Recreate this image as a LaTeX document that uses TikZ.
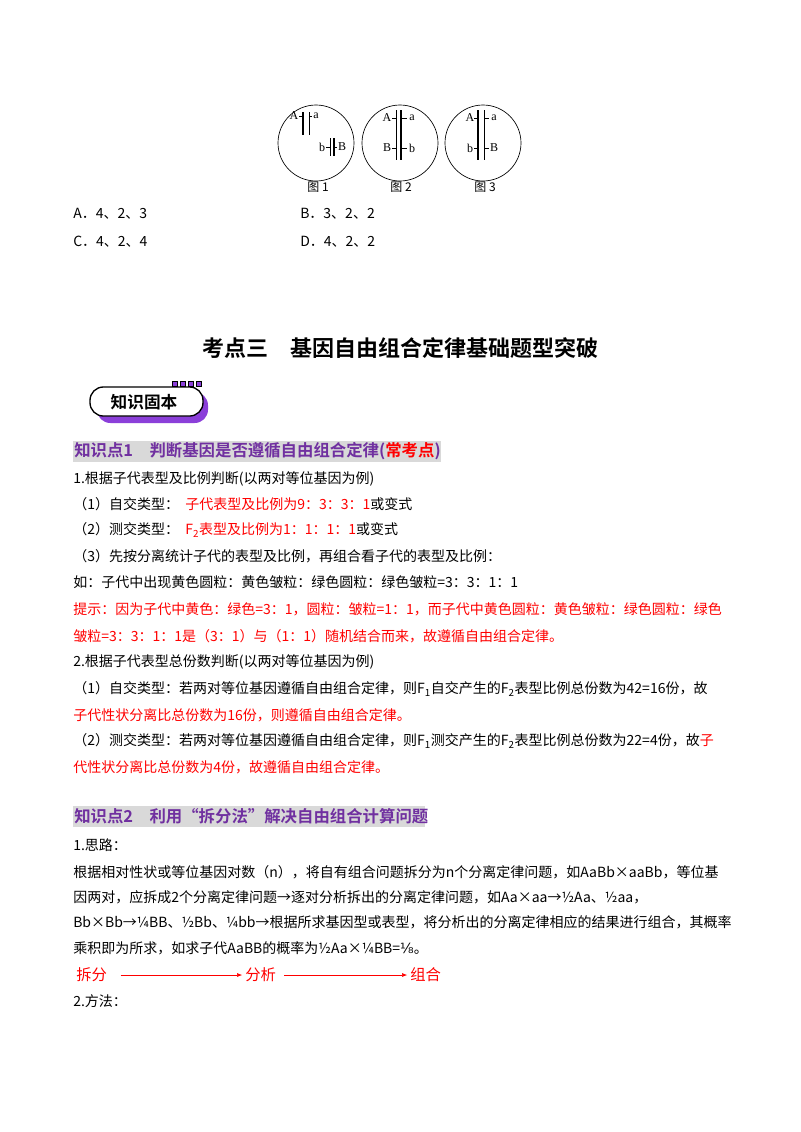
\documentclass[tikz,border=0pt]{standalone}
\usepackage{fontspec}
\setmainfont{Liberation Serif}
\newfontfamily\cjk{Noto Sans CJK SC}
\newfontfamily\cjkb{Noto Sans CJK SC Bold}
\newfontfamily\dv{DejaVu Sans}
\usetikzlibrary{arrows.meta}
\definecolor{myred}{HTML}{FF0000}
\definecolor{mypurple}{HTML}{7030A0}
\definecolor{hgray}{HTML}{D9D9D9}
\definecolor{bpurple}{HTML}{8B3FD9}
\newcommand{\R}[1]{\textcolor{myred}{#1}}
\tikzset{ln/.style={anchor=west,inner sep=0pt,font=\cjk\fontsize{10.5pt}{12pt}\selectfont},
 lab/.style={inner sep=0pt,font=\fontsize{9pt}{10pt}\selectfont},
 thin/.style={line width=0.5pt}}
\begin{document}
\begin{tikzpicture}[x=0.75pt,y=-0.75pt]
\useasboundingbox (0,0) rectangle (800,1132);
% circles
\draw[thin] (316,143) circle (38) (400,143) circle (38) (483,143) circle (38);
\node[lab] (A1) at (294,116) {A}; \node[lab] (a1) at (316,116) {a};
\draw[line width=1.2pt] (303,112) -- (303,135); \draw[thin] (309,112) -- (309,135);
\draw[thin] (299,116)--(303,116) (309,116)--(312,116);
\node[lab] (b1) at (322,147) {b}; \node[lab] (B1) at (342,147) {B};
\draw[thin] (330,138) -- (330,156); \draw[line width=1.2pt] (334,138) -- (334,156);
\draw[thin] (326,147)--(330,147) (334,147)--(337,147);
\node[lab] (A2) at (387,118) {A}; \node[lab] (a2) at (412,118) {a};
\node[lab] (B2) at (387,148) {B}; \node[lab] (b2) at (412,148) {b};
\draw[thin] (396,110) -- (396,160); \draw[line width=1.2pt] (401,110) -- (401,160);
\draw[thin] (392,118)--(396,118) (401,118)--(407,118) (392,148)--(396,148) (401,148)--(407,148);
\node[lab] (A3) at (470,118) {A}; \node[lab] (a3) at (494,118) {a};
\node[lab] (b3) at (470,148) {b}; \node[lab] (B3) at (494,148) {B};
\draw[line width=1.2pt] (478,110) -- (478,160); \draw[thin] (484,110) -- (484,160);
\draw[thin] (474,118)--(478,118) (484,118)--(489,118) (474,148)--(478,148) (484,148)--(489,148);
\node[lab,font=\cjk\fontsize{9pt}{10pt}\selectfont] (c1) at (318,187) {图 1};
\node[lab,font=\cjk\fontsize{9pt}{10pt}\selectfont] (c2) at (401,187) {图 2};
\node[lab,font=\cjk\fontsize{9pt}{10pt}\selectfont] (c3) at (485,187) {图 3};
\node[ln] (oA) at (73,214) {A．4、2、3};
\node[ln] (oB) at (300,214) {B．3、2、2};
\node[ln] (oC) at (73,242) {C．4、2、4};
\node[ln] (oD) at (300,242) {D．4、2、2};
% title
\node[inner sep=0pt,font=\cjkb\fontsize{16.5pt}{18pt}\selectfont] (title) at (400,348) {考点三\quad 基因自由组合定律基础题型突破};
% badge
\fill[bpurple,rounded corners=10pt] (97,392) -- (208,392) -- (208,423) -- (97,423) -- cycle;
\draw[line width=1pt,fill=white,rounded corners=10pt] (90,387) -- (203,387) -- (203,416) -- (90,416) -- cycle;
\foreach \x in {172,180,188,196} \draw[fill=bpurple,line width=0.6pt] (\x,381) rectangle (\x+5,386);
\node[inner sep=0pt,font=\cjkb\fontsize{12.5pt}{14pt}\selectfont] (badge) at (144,402) {知识固本};
% heading 1
\fill[hgray] (73,441) rectangle (441,462);
\node[ln,font=\cjkb\fontsize{12.3pt}{14pt}\selectfont,text=mypurple] (h1) at (74,451) {知识点1\quad 判断基因是否遵循自由组合定律(\R{常考点})};
\node[ln] (l1) at (73,479) {1.根据子代表型及比例判断(以两对等位基因为例)};
\node[ln] (l2) at (73,504) {（1）自交类型：\ \ \R{子代表型及比例为9：3：3：1}或变式};
\node[ln] (l3) at (73,530) {（2）测交类型：\ \ \R{F\textsubscript{2}表型及比例为1：1：1：1}或变式};
\node[ln] (l4) at (73,556) {（3）先按分离统计子代的表型及比例，再组合看子代的表型及比例：};
\node[ln] (l5) at (73,582) {如：子代中出现黄色圆粒：黄色皱粒：绿色圆粒：绿色皱粒=3：3：1：1};
\node[ln,text=myred] (l6) at (73,609) {提示：因为子代中黄色：绿色=3：1，圆粒：皱粒=1：1，而子代中黄色圆粒：黄色皱粒：绿色圆粒：绿色};
\node[ln,text=myred] (l7) at (73,636) {皱粒=3：3：1：1是（3：1）与（1：1）随机结合而来，故遵循自由组合定律。};
\node[ln] (l8) at (73,662) {2.根据子代表型总份数判断(以两对等位基因为例)};
\node[ln] (l9) at (73,689) {（1）自交类型：若两对等位基因遵循自由组合定律，则F\textsubscript{1}自交产生的F\textsubscript{2}表型比例总份数为42=16份，故};
\node[ln,text=myred] (l10) at (73,715) {子代性状分离比总份数为16份，则遵循自由组合定律。};
\node[ln] (l11) at (73,741) {（2）测交类型：若两对等位基因遵循自由组合定律，则F\textsubscript{1}测交产生的F\textsubscript{2}表型比例总份数为22=4份，故\R{子}};
\node[ln,text=myred] (l12) at (73,767) {代性状分离比总份数为4份，故遵循自由组合定律。};
% heading 2
\fill[hgray] (73,806) rectangle (425,827);
\node[ln,font=\cjkb\fontsize{12.3pt}{14pt}\selectfont,text=mypurple] (h2) at (74,816) {知识点2\quad 利用“拆分法”解决自由组合计算问题};
\node[ln] (m1) at (73,845) {1.思路：};
\node[ln] (m2) at (73,872) {根据相对性状或等位基因对数（n），将自有组合问题拆分为n个分离定律问题，如AaBb×aaBb，等位基};
\node[ln] (m3) at (73,897) {因两对，应拆成2个分离定律问题→逐对分析拆出的分离定律问题，如Aa×aa→½Aa、½aa，};
\node[ln] (m4) at (73,922) {Bb×Bb→¼BB、½Bb、¼bb→根据所求基因型或表型，将分析出的分离定律相应的结果进行组合，其概率};
\node[ln] (m5) at (73,948) {乘积即为所求，如求子代AaBB的概率为½Aa×¼BB={\dv ⅛}。};
\node[ln,text=myred,font=\cjk\fontsize{11.5pt}{13pt}\selectfont] (s1) at (76,975) {拆分};
\node[ln,text=myred,font=\cjk\fontsize{11.5pt}{13pt}\selectfont] (s2) at (245,975) {分析};
\node[ln,text=myred,font=\cjk\fontsize{11.5pt}{13pt}\selectfont] (s3) at (410,975) {组合};
\draw[myred,thin,-{Latex[length=4pt]}] ([xshift=10pt]s1.east) -- ([xshift=-2pt]s2.west);
\draw[myred,thin,-{Latex[length=4pt]}] ([xshift=6pt]s2.east) -- ([xshift=-2pt]s3.west);
\node[ln] (m6) at (73,1001) {2.方法：};
\end{tikzpicture}
\end{document}
